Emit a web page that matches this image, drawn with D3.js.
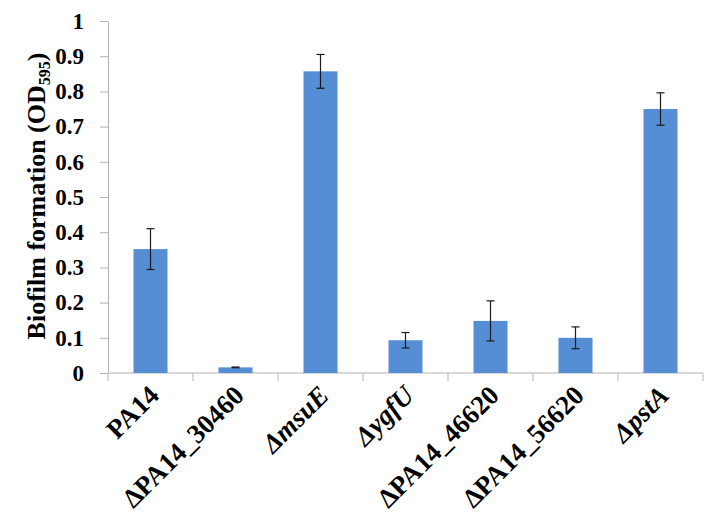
<!DOCTYPE html>
<html>
<head>
<meta charset="utf-8">
<script src="https://cdn.jsdelivr.net/npm/d3@7"></script>
<style>
  body { margin: 0; background: #fff; }
</style>
</head>
<body>
<svg id="chart" width="720" height="518"></svg>
<script>
// data
const strains = ["PA14", "ΔPA14_30460", "ΔmsuE", "ΔygfU", "ΔPA14_46620", "ΔPA14_56620", "ΔpstA"];
const italicName = [false, false, true, true, false, false, true];
const biofilm = [0.352, 0.016, 0.857, 0.093, 0.148, 0.100, 0.750];
const errors = [0.058, 0.001, 0.048, 0.022, 0.057, 0.031, 0.046];
const yTicks = [0, 0.1, 0.2, 0.3, 0.4, 0.5, 0.6, 0.7, 0.8, 0.9, 1];

const serif = "'Liberation Serif', 'Times New Roman', serif";
const margin = { top: 21, right: 17, bottom: 145, left: 108 };
const width = 720 - margin.left - margin.right;
const height = 518 - margin.top - margin.bottom;

const svg = d3.select("#chart");
const g = svg.append("g")
  .attr("transform", "translate(" + margin.left + "," + margin.top + ")");

const x = d3.scaleBand().domain(strains).range([0, width]).padding(0);
const y = d3.scaleLinear().domain([0, 1]).range([height, 0]);

const axisColor = "#b3b3b3";

// y axis
const yAxis = g.append("g")
  .call(d3.axisLeft(y).tickValues(yTicks).tickFormat(d3.format("~g")).tickSize(8).tickSizeOuter(0).tickPadding(16));
yAxis.select(".domain").attr("stroke", axisColor);
yAxis.selectAll(".tick line").attr("stroke", axisColor);
yAxis.selectAll(".tick text")
  .style("font-family", serif)
  .style("font-weight", "bold")
  .style("font-size", "23px")
  .attr("fill", "#000");

// x axis: ticks sit on band edges
const xAxis = g.append("g").attr("transform", "translate(0," + height + ")");
xAxis.append("line")
  .attr("x1", 0).attr("x2", width)
  .attr("stroke", axisColor);
const edges = strains.map(d => x(d)).concat([width]);
xAxis.selectAll(".edge")
  .data(edges)
  .enter()
  .append("line")
  .attr("class", "edge")
  .attr("x1", d => d).attr("x2", d => d)
  .attr("y1", 0).attr("y2", 8)
  .attr("stroke", axisColor);

// rotated category labels
const labels = xAxis.selectAll(".lbl")
  .data(strains)
  .enter()
  .append("text")
  .attr("class", "lbl")
  .style("font-family", serif)
  .style("font-weight", "bold")
  .style("font-size", "27px")
  .attr("text-anchor", "end")
  .attr("transform", d => "translate(" + (x(d) + x.bandwidth() / 2 + 10) + ",24) rotate(-45)");
labels.each(function (d, i) {
  const t = d3.select(this);
  if (italicName[i]) {
    t.append("tspan").style("font-style", "italic").text(d);
  } else {
    t.text(d);
  }
});

// bars
const barW = x.bandwidth() * 0.4;
g.selectAll(".bar")
  .data(strains)
  .enter()
  .append("rect")
  .attr("class", "bar")
  .attr("x", d => x(d) + (x.bandwidth() - barW) / 2)
  .attr("width", barW)
  .attr("y", (d, i) => y(biofilm[i]))
  .attr("height", (d, i) => height - y(biofilm[i]))
  .attr("fill", "#558ed5");

// error bars
const cx = d => x(d) + x.bandwidth() / 2;
const eb = g.selectAll(".err")
  .data(strains)
  .enter()
  .append("g")
  .attr("class", "err")
  .attr("stroke", "#1a1a1a")
  .attr("stroke-width", 1.2);
eb.append("line")
  .attr("x1", cx).attr("x2", cx)
  .attr("y1", (d, i) => y(biofilm[i] + errors[i]))
  .attr("y2", (d, i) => y(biofilm[i] - errors[i]));
eb.append("line")
  .attr("x1", d => cx(d) - 4).attr("x2", d => cx(d) + 4)
  .attr("y1", (d, i) => y(biofilm[i] + errors[i]))
  .attr("y2", (d, i) => y(biofilm[i] + errors[i]));
eb.append("line")
  .attr("x1", d => cx(d) - 4).attr("x2", d => cx(d) + 4)
  .attr("y1", (d, i) => y(biofilm[i] - errors[i]))
  .attr("y2", (d, i) => y(biofilm[i] - errors[i]));

// y axis title
const title = svg.append("text")
  .style("font-family", serif)
  .style("font-weight", "bold")
  .style("font-size", "26px")
  .attr("text-anchor", "middle")
  .attr("transform", "translate(45,196) rotate(-90)");
title.append("tspan").text("Biofilm formation (OD");
title.append("tspan").style("font-size", "16px").attr("dy", 5).text("595");
title.append("tspan").attr("dy", -5).text(")");
</script>
</body>
</html>
